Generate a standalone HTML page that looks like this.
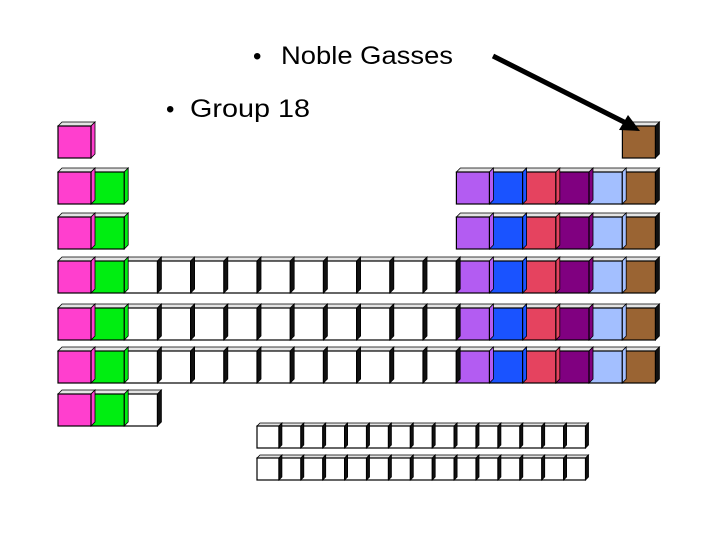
<!DOCTYPE html>
<html><head><meta charset="utf-8"><style>
html,body{margin:0;padding:0;background:#fff;width:720px;height:540px;overflow:hidden}
svg{display:block}
</style></head><body>
<svg id="s" width="720" height="540" xmlns="http://www.w3.org/2000/svg" font-family="Liberation Sans, sans-serif">
<text x="253" y="64" font-size="24" fill="#000">•</text>
<text x="281" y="64" font-size="25" fill="#000" textLength="172" lengthAdjust="spacingAndGlyphs">Noble Gasses</text>
<text x="166" y="117" font-size="24" fill="#000">•</text>
<text x="190" y="117" font-size="25" fill="#000" textLength="120" lengthAdjust="spacingAndGlyphs">Group 18</text>
<g id="cells"></g>
<line x1="493" y1="56" x2="626" y2="123" stroke="#000" stroke-width="5"/>
<polygon points="640,131 619,130 628,115" fill="#000"/>
</svg>
<script>
var g=document.getElementById('cells');
var cols=['#ff3fce','#00ee11','#fff','#fff','#fff','#fff','#fff','#fff','#fff','#fff','#fff','#fff','#b35cf2','#1a53ff','#e5435f','#800080','#a3bfff','#9a6433'];
var rows=[126,172,217,261,308,351,394];
function has(r,c){if(r==0)return c==1||c==18;if(r<=2)return c<=2||c>=13;if(r<=5)return true;return c<=3;}
var out='';
function cube(x,y,w,h,col,d,side){
 out+='<polygon points="'+x+','+y+' '+(x+d)+','+(y-d)+' '+(x+w+d)+','+(y-d)+' '+(x+w)+','+y+'" fill="#e4e4e4" stroke="#000" stroke-width="0.8"/>';
 out+='<polygon points="'+(x+w)+','+y+' '+(x+w+d)+','+(y-d)+' '+(x+w+d)+','+(y+h-d)+' '+(x+w)+','+(y+h)+'" fill="'+side+'" stroke="#000" stroke-width="0.8"/>';
 out+='<rect x="'+x+'" y="'+y+'" width="'+w+'" height="'+h+'" fill="'+col+'" stroke="#000" stroke-width="1.2"/>';
}
for(var r=0;r<7;r++)for(var c=18;c>=1;c--){if(!has(r,c))continue;
 var col=cols[c-1];var side=(c==18||col=='#fff')?'#111':col;
 cube(58+33.2*(c-1),rows[r],33,32,col,4,side);}
[426,458].forEach(function(y){for(var i=14;i>=0;i--)cube(257+21.9*i,y,21.9,22,'#fff',3,'#111');});
g.innerHTML=out;
</script>
</body></html>
